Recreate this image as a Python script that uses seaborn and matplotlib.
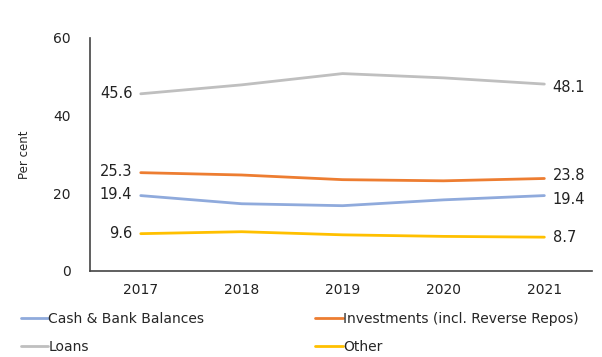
import pandas as pd
import matplotlib.pyplot as plt
import seaborn as sns

# ---- Data ----
years = [2017, 2018, 2019, 2020, 2021]
cash = [19.4, 17.3, 16.8, 18.3, 19.4]
investments = [25.3, 24.7, 23.5, 23.2, 23.8]
loans = [45.6, 47.9, 50.8, 49.7, 48.1]
other = [9.6, 10.1, 9.3, 8.9, 8.7]

series_names = ["Cash & Bank Balances", "Investments (incl. Reverse Repos)", "Loans", "Other"]
series_values = [cash, investments, loans, other]
colors = ["#8FAADC", "#ED7D31", "#BFBFBF", "#FFC000"]

df = pd.DataFrame({
    "Year": years * len(series_names),
    "Value": [v for vals in series_values for v in vals],
    "Series": [name for name in series_names for _ in years],
})

sns.set_style("white")
plt.rcParams["font.family"] = ["DejaVu Sans"]

fig = plt.figure(figsize=(6.02, 3.57), dpi=100)
ax = fig.add_axes([0.150, 0.241, 0.833, 0.653])

sns.lineplot(data=df, x="Year", y="Value", hue="Series", palette=colors,
             hue_order=series_names, linewidth=2, ax=ax, legend=False)

ax.set_xlim(2016.5, 2021.47)
ax.set_ylim(0, 60)
ax.set_xticks(years)
ax.set_xticklabels([str(y) for y in years])
ax.set_yticks([0, 20, 40, 60])
ax.tick_params(axis="both", length=0, labelsize=10, colors="#222222")
ax.tick_params(axis="y", pad=14)
ax.tick_params(axis="x", pad=9)
ax.set_xlabel("")
ax.set_ylabel("Per cent", fontsize=8.5, labelpad=16)

for side in ["top", "right"]:
    ax.spines[side].set_visible(False)
for side in ["left", "bottom"]:
    ax.spines[side].set_color("#444444")
    ax.spines[side].set_linewidth(1.2)

# Data labels at both ends
left_offsets = [1, 1, 0, 0]
right_offsets = [-2.5, 2, -2.5, -0.5]
for vals, lo, ro in zip(series_values, left_offsets, right_offsets):
    ax.annotate(f"{vals[0]:.1f}", xy=(years[0], vals[0]), xytext=(-6, lo),
                textcoords="offset points", ha="right", va="center", fontsize=10.5, color="#222222")
    ax.annotate(f"{vals[-1]:.1f}", xy=(years[-1], vals[-1]), xytext=(6, ro),
                textcoords="offset points", ha="left", va="center", fontsize=10.5, color="#222222")

# Legend: row 1 Cash / Investments, row 2 Loans / Other (matplotlib fills column-wise)
order = [0, 2, 1, 3]
handles = [plt.Line2D([], [], color=colors[i], linewidth=2) for i in order]
labels = [series_names[i] for i in order]
fig.legend(handles, labels, loc="upper left", bbox_to_anchor=(0.025, 0.142),
           ncol=2, frameon=False, fontsize=10, handlelength=2.0, handletextpad=0.0,
           columnspacing=8.0, labelspacing=1.0, borderaxespad=0)

fig.savefig("out.png", dpi=100)
